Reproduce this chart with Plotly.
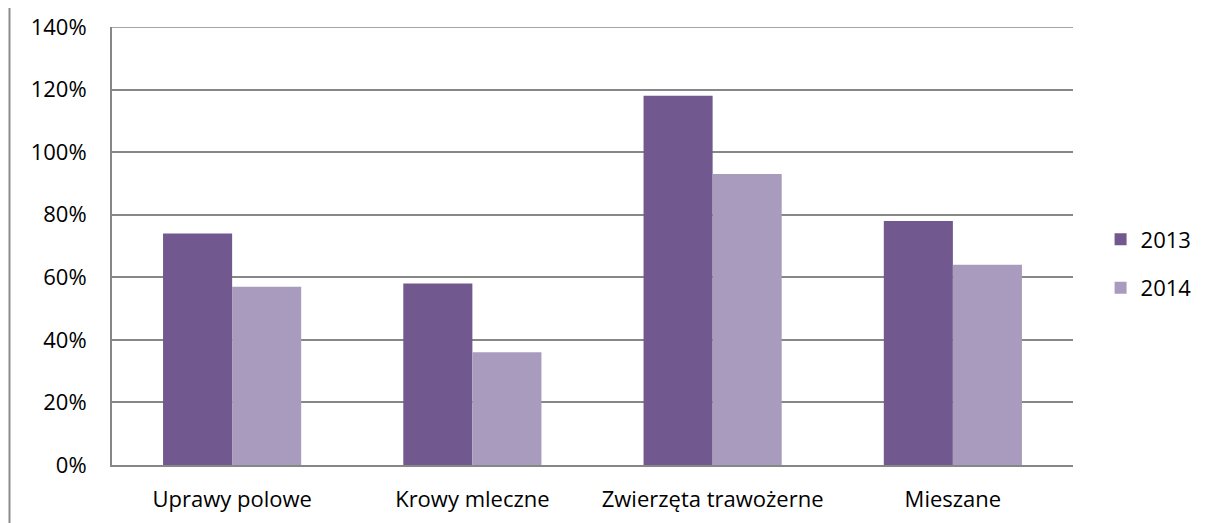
import plotly.graph_objects as go

categories = ["Uprawy polowe", "Krowy mleczne", "Zwierzęta trawożerne", "Mieszane"]
v2013 = [74, 58, 118, 78]
v2014 = [57, 36, 93, 64]
tick_vals = [0, 20, 40, 60, 80, 100, 120, 140]
tick_text = [f"{v}%" for v in tick_vals]

font = dict(family="Open Sans, Liberation Sans, sans-serif", size=22, color="#000000")

fig = go.Figure()
fig.add_trace(go.Bar(x=categories, y=v2013, name="2013", marker=dict(color="#71588F", line=dict(width=0)), legendgroup="a"))
fig.add_trace(go.Bar(x=categories, y=v2014, name="2014", marker=dict(color="#A99BBD", line=dict(width=0)), legendgroup="b"))

L, T, W, H = 104, 19, 961, 438
fig.update_layout(
    width=1197, height=515,
    margin=dict(l=L, r=1197 - L - W, t=T, b=515 - T - H, autoexpand=False),
    paper_bgcolor="white", plot_bgcolor="white",
    font=font,
    barmode="group", bargap=0.425, bargroupgap=0,
    showlegend=True,
    legend=dict(x=1.0287, y=0.459, xanchor="left", yanchor="middle",
                traceorder="grouped", tracegroupgap=17, font=font,
                itemwidth=30, bgcolor="rgba(0,0,0,0)"),
    xaxis=dict(showgrid=False, showline=True, linecolor="#878787", linewidth=2,
               ticks="", ticklabelstandoff=14, tickfont=font, automargin=False),
    yaxis=dict(range=[0, 140], tickvals=tick_vals, ticktext=tick_text,
               showgrid=True, gridcolor="#878787", gridwidth=1.5,
               showline=True, linecolor="#878787", linewidth=2,
               ticks="", ticklabelstandoff=19, tickfont=font, zeroline=False,
               automargin=False),
    shapes=[
        dict(type="line", xref="paper", yref="paper",
             x0=(1.5 - L) / W, x1=(1.5 - L) / W,
             y0=-(515 - T - H) / H, y1=(T + H + 10) / H,
             line=dict(color="#8c8c8c", width=2)),
        dict(type="line", xref="paper", yref="y", x0=0, x1=1,
             y0=tick_vals[-1], y1=tick_vals[-1],
             line=dict(color="#878787", width=1.5)),
    ],
)

fig.write_html("out.html")
